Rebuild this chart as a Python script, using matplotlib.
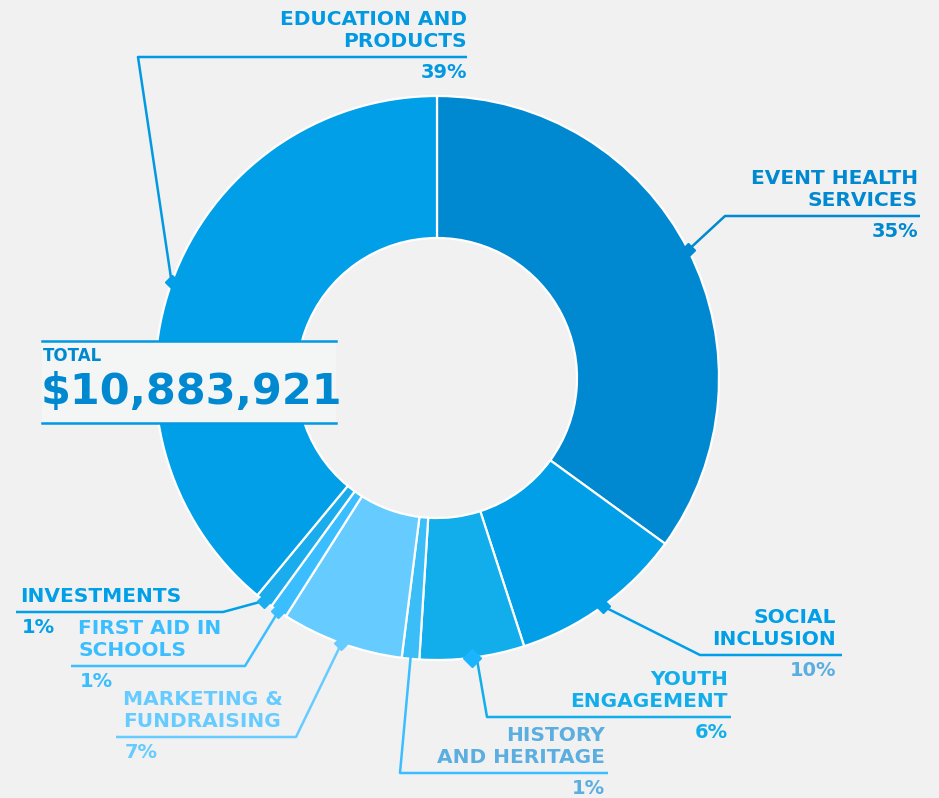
import numpy as np
import matplotlib
matplotlib.use('Agg')
import matplotlib.pyplot as plt
from matplotlib.patches import Rectangle

W, H = 939, 798
BG = '#f1f1f1'

# data
labels = ['EVENT HEALTH\nSERVICES', 'SOCIAL\nINCLUSION', 'YOUTH\nENGAGEMENT',
          'HISTORY\nAND HERITAGE', 'MARKETING &\nFUNDRAISING', 'FIRST AID IN\nSCHOOLS',
          'INVESTMENTS', 'EDUCATION AND\nPRODUCTS']
pcts = [35, 10, 6, 1, 7, 1, 1, 39]
wedge_colors = ['#0089d1', '#009fe8', '#12aeeb', '#3bbdf8', '#66ccff', '#3bbeff', '#1aacec', '#009fe8']
line_colors = ['#0089d1', '#009fe8', '#12aeeb', '#3bbeff', '#66ccff', '#3bbeff', '#009fe8', '#0099e2']
text_colors = ['#0089d1', '#009fe8', '#12aeeb', '#5aaee0', '#66ccff', '#3bbeff', '#009fe8', '#0099e2']
pct_colors = ['#0089d1', '#5aaee0', '#12aeeb', '#5aaee0', '#66ccff', '#3bbeff', '#009fe8', '#0099e2']
total_label = 'TOTAL'
total_value = '$10,883,921'

# layout (pixel coords, y down)
cx, cy = 437, 378
R, ring = 282, 142
# per slice: start radius, elbow (x, y), line end x, text anchor x, side
layout = [
    (R, (725, 216), 920, 918, 'right'),
    (R, (700, 655), 842, 836, 'right'),
    (190, (487, 717), 731, 728, 'right'),
    (R - 2, (400, 773), 608, 605, 'right'),
    (R, (296, 737), 116, 123, 'left'),
    (R, (245, 666), 71, 78, 'left'),
    (R, (223, 612), 16, 20, 'left'),
    (R, (138, 57), 467, 467, 'right'),
]

def Y(y):
    return H - y

fig = plt.figure(figsize=(W / 100, H / 100), dpi=100)
fig.patch.set_facecolor(BG)
ax = fig.add_axes([0, 0, 1, 1])
ax.set_facecolor(BG)

ax.pie(pcts, colors=wedge_colors, startangle=90, counterclock=False,
       radius=R, center=(cx, Y(cy)),
       wedgeprops=dict(width=ring, edgecolor='white', linewidth=1.6))

cum = 0
for i, (lab, p) in enumerate(zip(labels, pcts)):
    mid = np.deg2rad(90 - 360 * (cum + p / 2) / 100)
    cum += p
    r0, (ex, ey), lx, tx, side = layout[i]
    sx = cx + r0 * np.cos(mid)
    sy = Y(cy) + r0 * np.sin(mid)
    ax.plot([sx, ex, lx], [sy, Y(ey), Y(ey)], color=line_colors[i], lw=1.8,
            solid_capstyle='butt', zorder=3)
    if r0 >= R and i != 3:
        ax.plot([sx], [sy], marker='D', ms=7, color=wedge_colors[i], zorder=3)
    if i == 2:
        bx = cx + R * np.cos(mid)
        by = Y(cy) + R * np.sin(mid)
        ax.plot([bx], [by], marker='D', ms=9, color='#1ab4ff', zorder=3)
    ax.text(tx, Y(ey) + 6, lab, ha=side, va='bottom', fontsize=14.5,
            fontweight='bold', color=text_colors[i], linespacing=1.2, zorder=4)
    ax.text(tx if side == 'right' else tx + 2, Y(ey) - 6, f'{p}%', ha=side, va='top',
            fontsize=14, fontweight='bold', color=pct_colors[i], zorder=4)

# total box
ax.add_patch(Rectangle((42, Y(423)), 294, 82, facecolor='#f4f5f5',
                       edgecolor='none', zorder=5))
ax.plot([42, 336], [Y(341), Y(341)], color='#0099e2', lw=1.8, zorder=6)
ax.plot([42, 336], [Y(423), Y(423)], color='#0099e2', lw=1.8, zorder=6)
ax.text(43, Y(356), total_label, ha='left', va='center', fontsize=12,
        fontweight='bold', color='#0089d1', zorder=6)
ax.text(41, Y(392), total_value, ha='left', va='center', fontsize=31,
        fontweight='bold', color='#0089d1', zorder=6)

ax.set_xlim(0, W)
ax.set_ylim(0, H)
ax.set_aspect('auto')
ax.axis('off')

fig.savefig('out.png', dpi=100, facecolor=BG)
